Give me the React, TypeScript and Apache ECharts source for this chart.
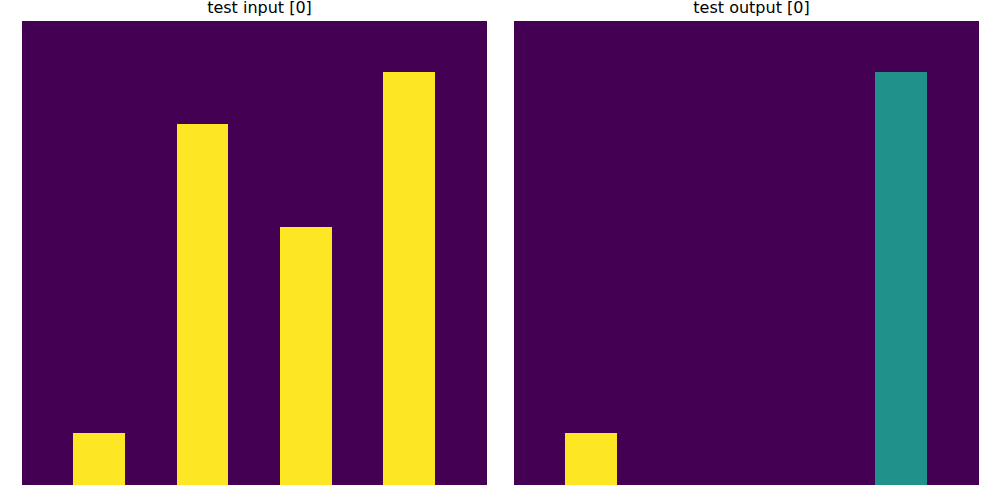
import React, { useEffect, useRef } from "react";
import * as echarts from "echarts";

const inputGrid = [
  [0, 0, 0, 0, 0, 0, 0, 0, 0],
  [0, 0, 0, 0, 0, 0, 0, 1, 0],
  [0, 0, 0, 1, 0, 0, 0, 1, 0],
  [0, 0, 0, 1, 0, 0, 0, 1, 0],
  [0, 0, 0, 1, 0, 1, 0, 1, 0],
  [0, 0, 0, 1, 0, 1, 0, 1, 0],
  [0, 0, 0, 1, 0, 1, 0, 1, 0],
  [0, 0, 0, 1, 0, 1, 0, 1, 0],
  [0, 1, 0, 1, 0, 1, 0, 1, 0],
];

const outputGrid = [
  [0, 0, 0, 0, 0, 0, 0, 0, 0],
  [0, 0, 0, 0, 0, 0, 0, 1, 0],
  [0, 0, 0, 0, 0, 0, 0, 1, 0],
  [0, 0, 0, 0, 0, 0, 0, 1, 0],
  [0, 0, 0, 0, 0, 0, 0, 1, 0],
  [0, 0, 0, 0, 0, 0, 0, 1, 0],
  [0, 0, 0, 0, 0, 0, 0, 1, 0],
  [0, 0, 0, 0, 0, 0, 0, 1, 0],
  [0, 2, 0, 0, 0, 0, 0, 1, 0],
];

const titles = ["test input [0]", "test output [0]"];
const indices = ["0", "1", "2", "3", "4", "5", "6", "7", "8"];

const toCells = (grid: number[][]) =>
  grid.flatMap((row, r) => row.map((v, c) => [c, r, v]));

export default function App() {
  const chartRef = useRef<HTMLDivElement>(null);

  useEffect(() => {
    const chart = echarts.init(chartRef.current!, null, { renderer: "svg" });

    const lefts = [22, 514];
    const size = 465;

    chart.setOption({
      animation: false,
      textStyle: { fontFamily: "DejaVu Sans" },
      title: titles.map((t, i) => ({
        text: t,
        left: lefts[i] + size / 2,
        textAlign: "center",
        top: -6,
        textStyle: {
          fontSize: 16,
          fontWeight: "normal",
          color: "#000",
          fontFamily: "DejaVu Sans",
        },
      })),
      grid: lefts.map((l) => ({
        left: l,
        top: 21,
        width: size,
        height: 464,
      })),
      xAxis: lefts.map((_, i) => ({
        type: "category",
        gridIndex: i,
        data: indices,
        show: false,
      })),
      yAxis: lefts.map((_, i) => ({
        type: "category",
        gridIndex: i,
        data: indices,
        inverse: true,
        show: false,
      })),
      visualMap: [
        {
          show: false,
          seriesIndex: 0,
          min: 0,
          max: 1,
          inRange: { color: ["#440154", "#fde725"] },
        },
        {
          show: false,
          seriesIndex: 1,
          min: 0,
          max: 2,
          inRange: { color: ["#440154", "#21918c", "#fde725"] },
        },
      ],
      series: [inputGrid, outputGrid].map((g, i) => ({
        type: "heatmap",
        xAxisIndex: i,
        yAxisIndex: i,
        data: toCells(g),
        itemStyle: { borderWidth: 0 },
        emphasis: { disabled: true },
      })),
    });

    return () => {
      chart.dispose();
    };
  }, []);

  return (
    <>
      <style>{".cells svg path, .cells svg rect { shape-rendering: crispEdges; }"}</style>
      <div
        ref={chartRef}
        className="cells"
        style={{ position: "fixed", left: 0, top: 0, width: 1000, height: 500, background: "#fff" }}
      />
    </>
  );
}
